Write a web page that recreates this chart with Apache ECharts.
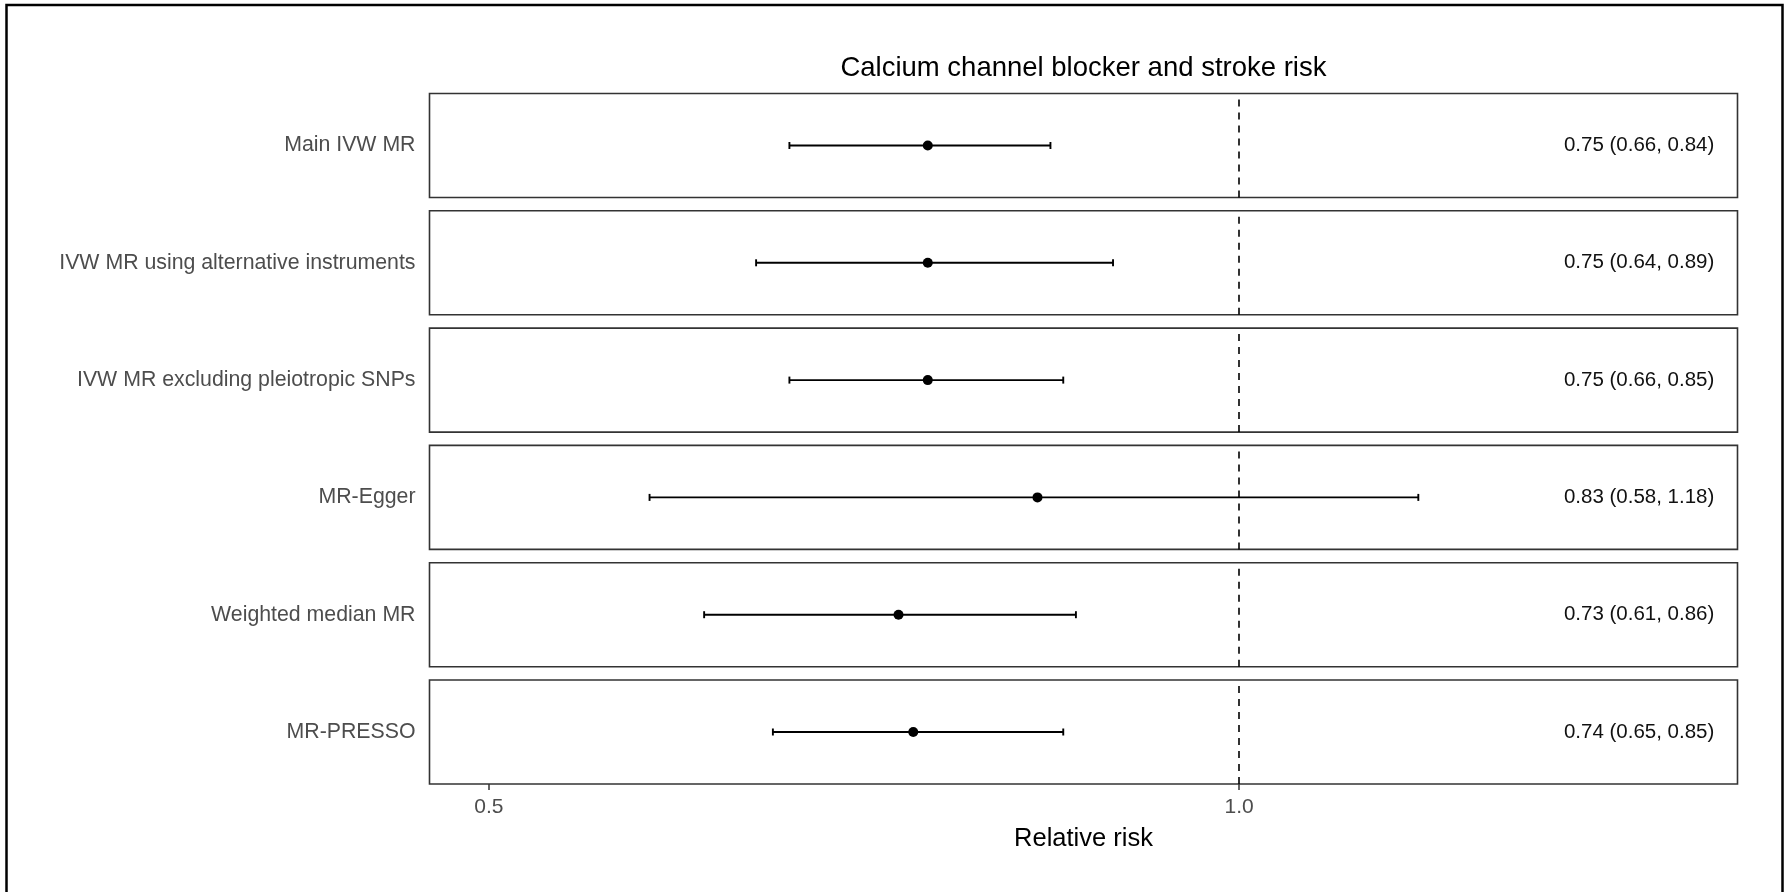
<!DOCTYPE html>
<html><head><meta charset="utf-8">
<script src="https://cdn.jsdelivr.net/npm/echarts@6/dist/echarts.min.js"></script>
<style>html,body{margin:0;padding:0;background:#fff}#chart{width:1787px;height:892px}</style>
</head><body><div id="chart"></div>
<script>
// ---- data ----
const methods = ['Main IVW MR', 'IVW MR using alternative instruments', 'IVW MR excluding pleiotropic SNPs', 'MR-Egger', 'Weighted median MR', 'MR-PRESSO'];
const estimates = [0.75, 0.75, 0.75, 0.83, 0.73, 0.74];
const lowerCI = [0.66, 0.64, 0.66, 0.58, 0.61, 0.65];
const upperCI = [0.84, 0.89, 0.85, 1.18, 0.86, 0.85];
const xTickValues = [0.5, 1.0];
const xAxisMin = 0.4733;
const xAxisMax = 1.5847;
const referenceValue = 1.0;
const annotationX = 1.447;

// ---- layout ----
const FONT = '"Liberation Sans", Arial, sans-serif';
const panelLeft = 429.5, panelWidth = 1308, panelTop0 = 93.5, panelStep = 117.3, panelHeight = 104;

const chart = echarts.init(document.getElementById('chart'), null, {renderer: 'canvas'});

function renderItem(params, api) {
  const yv = api.value(2);
  const lo = api.value(0), hi = api.value(1), est = api.value(3);
  const p0 = api.coord([lo, yv]);
  const p1 = api.coord([hi, yv]);
  const pl = api.coord([annotationX, yv]);
  const capH = 3.5;
  const st = {stroke: '#000', lineWidth: 1.9};
  return {
    type: 'group',
    children: [
      {type: 'line', shape: {x1: p0[0], y1: p0[1], x2: p1[0], y2: p1[1]}, style: st},
      {type: 'line', shape: {x1: p0[0], y1: p0[1] - capH, x2: p0[0], y2: p0[1] + capH}, style: st},
      {type: 'line', shape: {x1: p1[0], y1: p1[1] - capH, x2: p1[0], y2: p1[1] + capH}, style: st},
      {type: 'text', x: pl[0], y: pl[1], style: {
        text: est.toFixed(2) + ' (' + lo.toFixed(2) + ', ' + hi.toFixed(2) + ')',
        fill: '#111', fontSize: 20.5, fontFamily: FONT, align: 'center', verticalAlign: 'middle'}}
    ]
  };
}

const grids = [], xAxes = [], yAxes = [], series = [];
methods.forEach((m, i) => {
  const isLast = i === methods.length - 1;
  grids.push({left: panelLeft, width: panelWidth, top: panelTop0 + i * panelStep, height: panelHeight,
    show: true, borderColor: '#333', borderWidth: 1.6, backgroundColor: 'transparent', containLabel: false});
  xAxes.push({
    type: 'log', logBase: 2, gridIndex: i, min: xAxisMin, max: xAxisMax,
    axisLine: {show: false},
    axisTick: {show: isLast, customValues: xTickValues, length: 6, lineStyle: {color: '#333', width: 1.5}},
    axisLabel: {show: isLast, customValues: xTickValues, formatter: v => Number(v).toFixed(1),
      color: '#4d4d4d', fontSize: 21, fontFamily: FONT, margin: 13},
    splitLine: {show: false}, minorTick: {show: false}, minorSplitLine: {show: false},
    name: isLast ? 'Relative risk' : '', nameLocation: 'middle', nameGap: 42,
    nameTextStyle: {color: '#000', fontSize: 25.5, fontFamily: FONT}
  });
  yAxes.push({
    type: 'category', gridIndex: i, data: [m],
    axisLine: {show: false}, axisTick: {show: false}, splitLine: {show: false},
    axisLabel: {color: '#4d4d4d', fontSize: 21.3, fontFamily: FONT, margin: 14}
  });
  series.push({
    type: 'custom', xAxisIndex: i, yAxisIndex: i, renderItem: renderItem,
    encode: {x: [0, 1], y: 2}, silent: true,
    data: [[lowerCI[i], upperCI[i], m, estimates[i]]]
  });
  series.push({
    type: 'scatter', xAxisIndex: i, yAxisIndex: i, symbol: 'circle', symbolSize: 10,
    itemStyle: {color: '#000', opacity: 1}, silent: true, z: 3,
    data: [[estimates[i], m]],
    markLine: {silent: true, symbol: ['none', 'none'], label: {show: false},
      lineStyle: {color: '#000', type: [7, 6], width: 1.6, opacity: 1},
      emphasis: {disabled: true}, animation: false,
      data: [{xAxis: referenceValue}]}
  });
});

chart.setOption({
  animation: false,
  backgroundColor: '#fff',
  title: {text: 'Calcium channel blocker and stroke risk', left: 1083.4, top: 54.5, padding: 0,
    textAlign: 'center',
    textStyle: {color: '#000', fontSize: 27.5, fontWeight: 'normal', fontFamily: FONT}},
  graphic: [{type: 'rect', silent: true, shape: {x: 6.5, y: 5, width: 1776, height: 900},
    style: {fill: 'none', stroke: '#000', lineWidth: 2.5}}],
  grid: grids, xAxis: xAxes, yAxis: yAxes, series: series
});
</script></body></html>
